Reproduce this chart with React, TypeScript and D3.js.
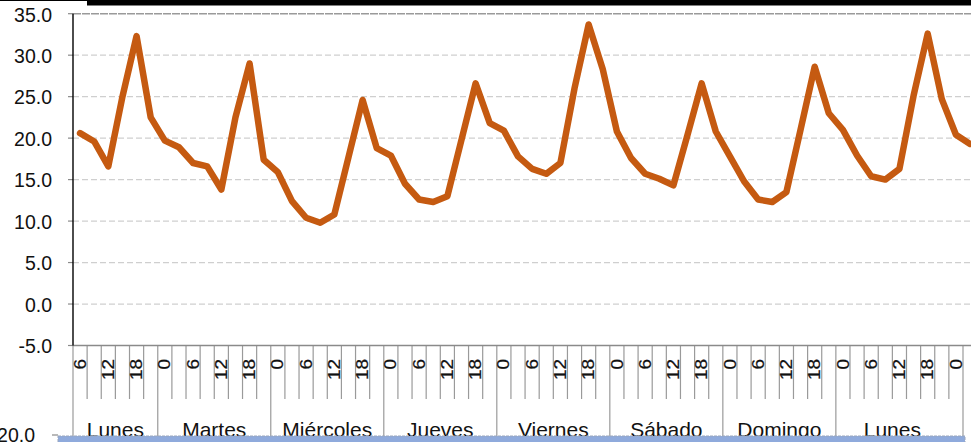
import React from 'react';
import * as d3 from 'd3';

// hour of each 3-hourly category (last one lies past the visible edge)
const hours = [
  6, 9, 12, 15, 18, 21,
  0, 3, 6, 9, 12, 15, 18, 21,
  0, 3, 6, 9, 12, 15, 18, 21,
  0, 3, 6, 9, 12, 15, 18, 21,
  0, 3, 6, 9, 12, 15, 18, 21,
  0, 3, 6, 9, 12, 15, 18, 21,
  0, 3, 6, 9, 12, 15, 18, 21,
  0, 3, 6, 9, 12, 15, 18, 21, 0,
  3
];

const days = ['Lunes', 'Martes', 'Miércoles', 'Jueves', 'Viernes', 'Sábado', 'Domingo', 'Lunes'];
const daySizes = [6, 8, 8, 8, 8, 8, 8, 9];

const values = [
  20.6, 19.6, 16.6, 25.0, 32.3, 22.5,
  19.7, 18.9, 17.0, 16.6, 13.8, 22.5, 29.0, 17.4,
  15.9, 12.4, 10.4, 9.8, 10.8, 17.7, 24.6, 18.8,
  17.9, 14.5, 12.6, 12.3, 13.0, 19.8, 26.6, 21.8,
  20.9, 17.8, 16.3, 15.7, 17.0, 26.0, 33.7, 28.3,
  20.8, 17.6, 15.7, 15.1, 14.3, 20.4, 26.6, 20.8,
  17.8, 14.8, 12.6, 12.3, 13.5, 21.0, 28.6, 23.0,
  21.0, 17.9, 15.4, 15.0, 16.3, 25.1, 32.6, 24.7, 20.4,
  19.3
];

const yTicks = [35, 30, 25, 20, 15, 10, 5, 0, -5];

const W = 971;
const H = 442;
const left = 73;
const step = 14.127;
const axisY = 345.5;
const font = 'Liberation Sans, Arial, sans-serif';

export default function App() {
  const x = d3
    .scaleBand<number>()
    .domain(hours.map((_, i) => i))
    .range([left, left + hours.length * step])
    .padding(0);

  const y = d3.scaleLinear().domain([-5, 35]).range([axisY, 13.7]);

  const line = d3
    .line<number>()
    .x((_, i) => x(i) + x.bandwidth() / 2)
    .y((d) => y(d));

  // day groups
  let start = 0;
  const groups = days.map((name, g) => {
    const idx = d3.range(start, start + daySizes[g]);
    start += daySizes[g];
    // label centred over the day's own hours (a closing 0h belongs to the next day)
    const own = idx.filter((i, j) => !(j > 0 && hours[i] === 0));
    const cx = d3.mean(own, (i) => x(i) + x.bandwidth() / 2);
    return { name, first: idx[0], last: idx[idx.length - 1], cx };
  });
  const groupEdges = [groups[0].first, ...groups.map((g) => g.last + 1)];
  const lastEdge = groupEdges[groupEdges.length - 1];

  return (
    <svg
      width={W}
      height={H}
      style={{ position: 'absolute', left: 0, top: 0, background: '#fff' }}
      fontFamily={font}
    >
      {/* top frame remnants */}
      <rect x={0} y={0} width={W} height={1} fill="#000" />
      <rect x={87} y={0} width={W - 87} height={5.5} fill="#000" />

      {/* gridlines */}
      {yTicks.slice(0, -1).map((t) => (
        <line
          key={`g-${t}`}
          x1={left}
          x2={W}
          y1={y(t)}
          y2={y(t)}
          stroke={t === 35 ? '#9a9a9a' : '#cfcfcf'}
          strokeWidth={t === 35 ? 1.6 : 1.2}
          strokeDasharray={t === 35 ? '8,1' : '6,3'}
        />
      ))}

      {/* y ticks and labels */}
      {yTicks.map((t) => (
        <g key={`yt-${t}`}>
          <line x1={left - 5} x2={left} y1={y(t)} y2={y(t)} stroke="#8a8a8a" strokeWidth={1.2} />
          <text x={52} y={y(t)} dy="0.4em" textAnchor="end" fontSize={19.5} fill="#111">
            {t.toFixed(1)}
          </text>
        </g>
      ))}

      {/* category ticks */}
      {d3.range(0, lastEdge + 1).map((i) => {
        const xx = i === lastEdge ? x(i - 1) + x.bandwidth() : x(i);
        const long = groupEdges.includes(i);
        return (
          <line
            key={`ct-${i}`}
            x1={xx}
            x2={xx}
            y1={axisY}
            y2={long ? 436 : 399}
            stroke="#9a9a9a"
            strokeWidth={1.2}
          />
        );
      })}

      {/* hour labels, every second category */}
      {hours.map((h, i) =>
        i % 2 === 0 && i < lastEdge ? (
          <text
            key={`h-${i}`}
            transform={`translate(${x(i) + x.bandwidth() / 2},359) rotate(-90) scale(1,0.82)`}
            textAnchor="end"
            dy="0.36em"
            fontSize={19}
            fill="#111"
            stroke="#111"
            strokeWidth={0.3}
          >
            {h}
          </text>
        ) : null
      )}

      {/* day labels */}
      {groups.map((g, i) => (
        <text key={`d-${i}`} x={g.cx} y={437} textAnchor="middle" fontSize={21} fill="#111">
          {g.name}
        </text>
      ))}

      {/* axes */}
      <line x1={left} x2={W} y1={axisY} y2={axisY} stroke="#8a8a8a" strokeWidth={1.6} />
      <line x1={left} x2={left} y1={y(35)} y2={axisY} stroke="#000" strokeWidth={1.4} />

      {/* series */}
      <path
        d={line(values)}
        fill="none"
        stroke="#C55A11"
        strokeWidth={6.5}
        strokeLinejoin="round"
        strokeLinecap="round"
      />

      {/* next chart peeking in at the bottom */}
      <line x1={52} x2={58} y1={435} y2={435} stroke="#8a8a8a" strokeWidth={1.2} />
      <rect x={58} y={436} width={907} height={8} fill="#8FAADC" stroke="#9aa6bc" strokeWidth={1} strokeDasharray="3,1" />
      <text x={35} y={442} textAnchor="end" fontSize={19.5} fill="#111">
        20.0
      </text>
    </svg>
  );
}
